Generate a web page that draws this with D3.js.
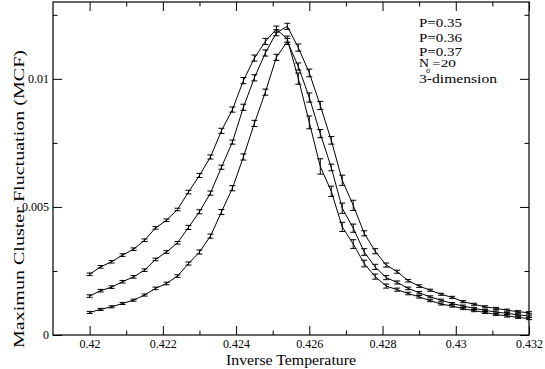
<!DOCTYPE html>
<html>
<head>
<meta charset="utf-8">
<script src="https://cdn.jsdelivr.net/npm/d3@7"></script>
<style>
  body { margin: 0; background: #fff; }
  svg text { font-family: "Liberation Serif", "Times New Roman", Times, serif; fill: #000; }
</style>
</head>
<body>
<div id="chart"></div>
<script>
// inverse temperature points (same for all three runs)
var temps = [0.42,0.4203,0.4206,0.4209,0.4212,0.4215,0.4218,0.4221,0.4224,0.4227,
  0.423,0.4233,0.4236,0.4239,0.4242,0.4245,0.4248,0.4251,0.4254,0.4257,
  0.426,0.4263,0.4266,0.4269,0.4272,0.4275,0.4278,0.4281,0.4284,0.4287,
  0.429,0.4293,0.4296,0.4299,0.4302,0.4305,0.4308,0.4311,0.4314,0.4317,0.432]

var mcfA = [0.00237,0.00266,0.00286,0.00312,0.00335,0.0037,0.00418,0.00448,0.0049,0.00558,
  0.00623,0.00695,0.00797,0.0088,0.00993,0.01081,0.01146,0.01194,0.01155,0.01001,
  0.0083,0.00658,0.00561,0.00422,0.00355,0.00279,0.00228,0.00191,0.00177,0.00162,
  0.00149,0.00134,0.00121,0.00113,0.00103,0.00095,0.00088,0.0008,0.00074,0.00069,0.00064]
var errA = [0.00005,0.00005,0.00005,0.00005,0.00005,0.00005,0.00005,0.00005,0.00005,0.00007,
  0.00008,0.00008,0.0001,0.0001,0.00012,0.00012,0.00012,0.00012,0.00012,0.00022,
  0.00025,0.0003,0.0002,0.00018,0.00017,0.00013,0.0001,0.00008,0.00006,0.00005,
  0.00005,0.00004,0.00004,0.00004,0.00004,0.00004,0.00004,0.00004,0.00004,0.00004,0.00004]

var mcfB = [0.00152,0.00173,0.00187,0.00208,0.00227,0.00253,0.00295,0.00324,0.0036,0.0042,
  0.00481,0.00554,0.00655,0.00753,0.00889,0.01004,0.01101,0.0118,0.01205,0.01122,
  0.01023,0.00896,0.0076,0.00604,0.00506,0.00397,0.00327,0.00273,0.00247,0.00212,
  0.00191,0.00175,0.00159,0.00147,0.0013,0.0012,0.0011,0.00104,0.00097,0.00091,0.00087]
var errB = [0.00005,0.00005,0.00005,0.00005,0.00005,0.00005,0.00005,0.00005,0.00005,0.00008,
  0.00008,0.00008,0.00008,0.00008,0.00012,0.00012,0.00012,0.00012,0.00012,0.00014,
  0.00015,0.00016,0.00015,0.0002,0.0002,0.0001,0.0001,0.00008,0.00006,0.00005,
  0.00005,0.00004,0.00004,0.00004,0.00004,0.00004,0.00004,0.00004,0.00004,0.00004,0.00004]

var mcfC = [0.00088,0.001,0.0011,0.00123,0.00136,0.00156,0.00182,0.00201,0.0023,0.00279,
  0.00324,0.00386,0.0048,0.00573,0.00695,0.00826,0.00948,0.01084,0.01146,0.01048,
  0.00927,0.00786,0.00654,0.00495,0.00417,0.00324,0.00266,0.00224,0.00205,0.00182,
  0.00165,0.00149,0.00136,0.00123,0.00113,0.00104,0.00096,0.0009,0.00084,0.00079,0.00074]
var errC = [0.00004,0.00004,0.00004,0.00004,0.00004,0.00004,0.00005,0.00005,0.00005,0.00006,
  0.00008,0.00008,0.0001,0.0001,0.00012,0.00012,0.00012,0.00012,0.00012,0.00014,
  0.00018,0.00016,0.00013,0.0002,0.00016,0.00013,0.0001,0.00008,0.00006,0.00005,
  0.00005,0.00004,0.00004,0.00004,0.00004,0.00004,0.00004,0.00004,0.00004,0.00004,0.00004]

var xMajor = [0.42,0.422,0.424,0.426,0.428,0.43,0.432]
var xMajorLabels = ["0.42","0.422","0.424","0.426","0.428","0.43","0.432"]
var xMinor = [0.421,0.423,0.425,0.427,0.429,0.431]
var yMajor = [0,0.005,0.01]
var yMajorLabels = ["0","0.005","0.01"]
var yMinor = [0.0025,0.0075,0.0125]

var legendLines = ["P=0.35","P=0.36","P=0.37"]

var W = 545, H = 369
// plot box (window.top is reserved, so use prefixed names)
var boxL = 53, boxR = 529, boxT = 2, boxB = 335
var serif = "'Liberation Serif', 'Times New Roman', Times, serif"

var x = d3.scaleLinear().domain([0.419,0.432]).range([boxL,boxR])
var y = d3.scaleLinear().domain([0,0.013]).range([boxB,boxT])

var svg = d3.select("#chart").append("svg")
  .attr("width",W).attr("height",H)
  .attr("font-family",serif)

// series
var series = [
  {vals: mcfA, errs: errA},
  {vals: mcfB, errs: errB},
  {vals: mcfC, errs: errC}
]

var line = d3.line()
  .x(function(d){ return x(d.t) })
  .y(function(d){ return y(d.v) })

series.forEach(function(s){
  var pts = temps.map(function(t,i){ return {t:t, v:s.vals[i], e:s.errs[i]} })
  var g = svg.append("g")
  g.append("path").datum(pts)
    .attr("d",line)
    .attr("fill","none")
    .attr("stroke","#000")
    .attr("stroke-width",1)

  var bars = g.selectAll(".eb").data(pts).enter().append("g").attr("class","eb")
  bars.append("line")
    .attr("x1",function(d){ return x(d.t) }).attr("x2",function(d){ return x(d.t) })
    .attr("y1",function(d){ return y(d.v-d.e) }).attr("y2",function(d){ return y(d.v+d.e) })
  bars.append("line")
    .attr("x1",function(d){ return x(d.t)-3 }).attr("x2",function(d){ return x(d.t)+3 })
    .attr("y1",function(d){ return y(d.v-d.e) }).attr("y2",function(d){ return y(d.v-d.e) })
  bars.append("line")
    .attr("x1",function(d){ return x(d.t)-3 }).attr("x2",function(d){ return x(d.t)+3 })
    .attr("y1",function(d){ return y(d.v+d.e) }).attr("y2",function(d){ return y(d.v+d.e) })
  bars.selectAll("line").attr("stroke","#000").attr("stroke-width",1)
})

// axes, ticks pointing inward on every side
function styleAxis(g){
  g.attr("font-family",serif)
  g.select(".domain").remove()
  g.selectAll(".tick line").attr("stroke","#000")
  g.selectAll(".tick text").style("font-size","12px")
}

svg.append("g").attr("transform","translate(0,"+boxB+")")
  .call(d3.axisBottom(x).tickValues(xMajor).tickSize(-9).tickPadding(4.5)
    .tickFormat(function(d,i){ return xMajorLabels[i] }))
  .call(styleAxis)
svg.append("g").attr("transform","translate(0,"+boxB+")")
  .call(d3.axisBottom(x).tickValues(xMinor).tickSize(-4.5).tickFormat(""))
  .call(styleAxis)
svg.append("g").attr("transform","translate(0,"+boxT+")")
  .call(d3.axisTop(x).tickValues(xMajor).tickSize(-9).tickFormat(""))
  .call(styleAxis)
svg.append("g").attr("transform","translate(0,"+boxT+")")
  .call(d3.axisTop(x).tickValues(xMinor).tickSize(-4.5).tickFormat(""))
  .call(styleAxis)

svg.append("g").attr("transform","translate("+boxL+",0)")
  .call(d3.axisLeft(y).tickValues(yMajor).tickSize(-9).tickPadding(4)
    .tickFormat(function(d,i){ return yMajorLabels[i] }))
  .call(styleAxis)
svg.append("g").attr("transform","translate("+boxL+",0)")
  .call(d3.axisLeft(y).tickValues(yMinor).tickSize(-4.5).tickFormat(""))
  .call(styleAxis)
svg.append("g").attr("transform","translate("+boxR+",0)")
  .call(d3.axisRight(y).tickValues(yMajor).tickSize(-9).tickFormat(""))
  .call(styleAxis)
svg.append("g").attr("transform","translate("+boxR+",0)")
  .call(d3.axisRight(y).tickValues(yMinor).tickSize(-4.5).tickFormat(""))
  .call(styleAxis)

// frame
svg.append("rect")
  .attr("x",boxL).attr("y",boxT)
  .attr("width",boxR-boxL).attr("height",boxB-boxT)
  .attr("fill","none").attr("stroke","#000").attr("stroke-width",1.2)

// axis titles
svg.append("text")
  .attr("x",(boxL+boxR)/2).attr("y",365)
  .attr("text-anchor","middle")
  .style("font-size","15px")
  .attr("textLength",130).attr("lengthAdjust","spacingAndGlyphs")
  .text("Inverse Temperature")

svg.append("text")
  .attr("transform","translate(24,199) rotate(-90)")
  .attr("text-anchor","middle")
  .style("font-size","15px")
  .attr("textLength",298).attr("lengthAdjust","spacingAndGlyphs")
  .text("Maximun Cluster Fluctuation (MCF)")

// legend block
var legY = [27,41.5,56]
svg.selectAll(".leg").data(legendLines).enter().append("text")
  .attr("class","leg")
  .attr("x",419).attr("y",function(d,i){ return legY[i] })
  .style("font-size","13px")
  .attr("textLength",43).attr("lengthAdjust","spacingAndGlyphs")
  .text(function(d){ return d })

svg.append("text").attr("x",419).attr("y",66.5).style("font-size","12px")
  .attr("textLength",10).attr("lengthAdjust","spacingAndGlyphs").text("N")
svg.append("text").attr("x",426).attr("y",73).style("font-size","8px").text("σ")
svg.append("text").attr("x",432).attr("y",66.5).style("font-size","10px")
  .attr("textLength",24).attr("lengthAdjust","spacingAndGlyphs").text("=20")
svg.append("text").attr("x",419).attr("y",82.5).style("font-size","13px")
  .attr("textLength",78).attr("lengthAdjust","spacingAndGlyphs").text("3-dimension")
</script>
</body>
</html>
